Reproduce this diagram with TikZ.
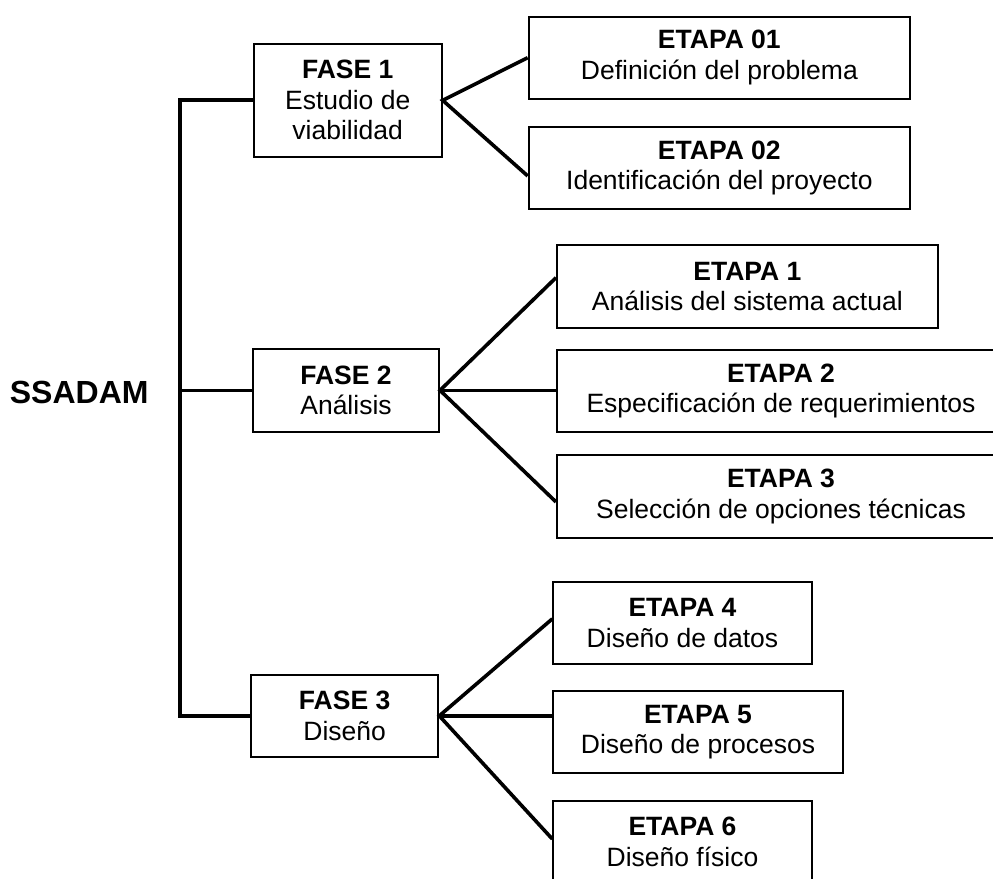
\documentclass[tikz,border=0pt]{standalone}
\usepackage{fontspec}
\setmainfont{Liberation Sans}
\usetikzlibrary{calc}

\begin{document}
\begin{tikzpicture}[x=1pt,y=-1pt,
  stagebox/.style={draw=black, line width=2pt, rectangle, inner sep=0pt,
    anchor=north west, align=center,
    font=\fontsize{26.5pt}{30.5pt}\selectfont},
  trunkline/.style={line width=4pt, line join=miter},
  branch/.style={line width=3.6pt},
  titletext/.style={font=\bfseries\fontsize{32pt}{36pt}\selectfont, anchor=base}]

  \useasboundingbox (0,0) rectangle (993,878);
  \fill[white] (0,0) rectangle (993,878);
  \clip (0,0) rectangle (993,878);

  % root label
  \node[titletext] (root) at (79.2,403.3) {SSADAM};

  % phases
  \node[stagebox, minimum width=188pt, minimum height=113.3pt] (fase1) at (252.7,42.7)
    {\textbf{FASE 1}\\Estudio de\\viabilidad};
  \node[stagebox, minimum width=186pt, minimum height=82.7pt] (fase2) at (252,348)
    {\textbf{FASE 2}\\Análisis};
  \node[stagebox, minimum width=187.3pt, minimum height=81.7pt] (fase3) at (250,674)
    {\textbf{FASE 3}\\Diseño};

  % stages of phase 1
  \node[stagebox, minimum width=381.3pt, minimum height=82pt] (e01) at (527.7,15.7)
    {\textbf{ETAPA 01}\\Definición del problema};
  \node[stagebox, minimum width=381.3pt, minimum height=82.3pt] (e02) at (527.7,126)
    {\textbf{ETAPA 02}\\Identificación del proyecto};

  % stages of phase 2
  \node[stagebox, minimum width=380.7pt, minimum height=82.7pt] (e1) at (556,244)
    {\textbf{ETAPA 1}\\Análisis del sistema actual};
  \node[stagebox, minimum width=448pt, minimum height=82pt] (e2) at (556,349)
    {\textbf{ETAPA 2}\\Especificación de requerimientos};
  \node[stagebox, minimum width=448pt, minimum height=82.7pt] (e3) at (556,454)
    {\textbf{ETAPA 3}\\Selección de opciones técnicas};

  % stages of phase 3
  \node[stagebox, minimum width=258.4pt, minimum height=81.7pt] (e4) at (552.3,581)
    {\textbf{ETAPA 4}\\Diseño de datos};
  \node[stagebox, minimum width=289.4pt, minimum height=82pt] (e5) at (552.3,690)
    {\textbf{ETAPA 5}\\Diseño de procesos};
  \node[stagebox, minimum width=258.4pt, minimum height=82pt] (e6) at (552.3,800)
    {\textbf{ETAPA 6}\\Diseño físico};

  % vertical trunk joining the phases
  \coordinate (trunk) at (180,100);
  \draw[trunkline] (fase1.west) -- (fase1.west -| trunk) -- (fase3.west -| trunk) -- (fase3.west);
  \draw[branch] (fase2.west -| trunk) -- (fase2.west);

  % fans from each phase to its stages
  \draw[branch] (e01.west) -- (fase1.east) -- ([yshift=-7.8pt]e02.west);
  \draw[branch] ([yshift=8.7pt]e1.west) -- (fase2.east) -- ([yshift=-5.6pt]e3.west);
  \draw[branch] (fase2.east) -- (fase2.east -| e2.west);
  \draw[branch] ([yshift=4pt]e4.west) -- (fase3.east) -- ([yshift=3pt]e6.west);
  \draw[branch] (fase3.east) -- (fase3.east -| e5.west);
\end{tikzpicture}
\end{document}
